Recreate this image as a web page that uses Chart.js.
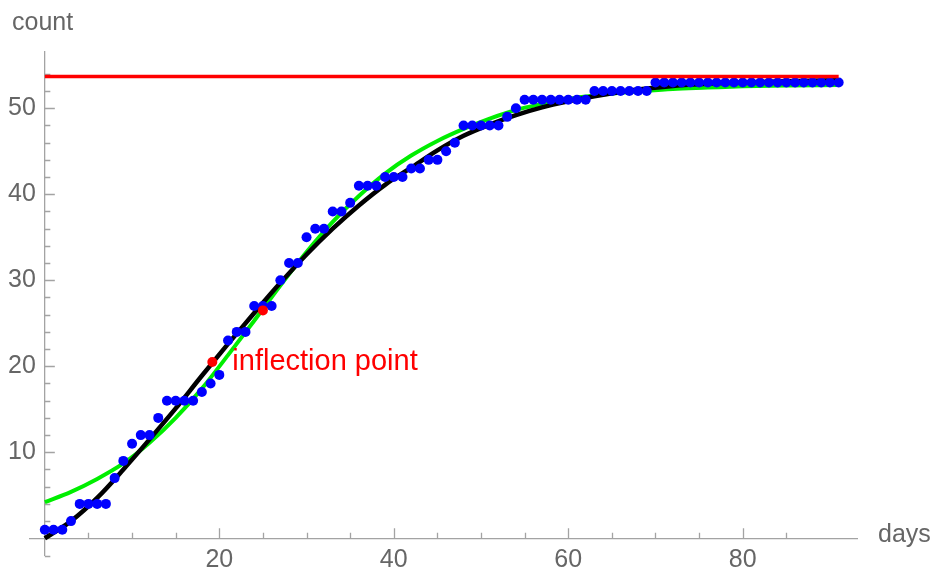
<!DOCTYPE html>
<html>
<head>
<meta charset="utf-8">
<script src="https://cdn.jsdelivr.net/npm/chart.js@4"></script>
<style>
  html, body { margin: 0; padding: 0; background: #fff; }
  #wrap { width: 933px; height: 571px; }
</style>
</head>
<body>
<div id="wrap"><canvas id="chart" width="933" height="571"></canvas></div>
<script>
// observed counts, one per day starting at day 0
const counts = [
  1, 1, 1, 2, 4, 4, 4, 4, 7, 9,
  11, 12, 12, 14, 16, 16, 16, 16, 17, 18,
  19, 23, 24, 24, 27, 27, 27, 30, 32, 32,
  35, 36, 36, 38, 38, 39, 41, 41, 41, 42,
  42, 42, 43, 43, 44, 44, 45, 46, 48, 48,
  48, 48, 48, 49, 50, 51, 51, 51, 51, 51,
  51, 51, 51, 52, 52, 52, 52, 52, 52, 52,
  53, 53, 53, 53, 53, 53, 53, 53, 53, 53,
  53, 53, 53, 53, 53, 53, 53, 53, 53, 53,
  53, 53
];

// sample days for the two fitted curves
const fitDays = [0, 3, 6, 9, 12, 15, 18, 21, 24, 27, 30, 33, 36, 39, 42, 45, 48, 51, 54, 57, 60, 63, 66, 69, 72, 76, 80, 85, 91];

// black fitted curve
const blackVals = [0, 2.0, 4.7, 8.0, 11.5, 15.1, 18.9, 22.6, 26.2, 29.7, 33.0, 36.0, 38.7, 41.1, 43.1, 45.1, 46.8, 48.1, 49.2, 50.1, 50.8, 51.4, 51.9, 52.3, 52.6, 52.85, 53.0, 53.15, 53.25];

// green fitted curve
const greenVals = [4.2, 5.4, 6.9, 8.7, 11.1, 14.0, 17.4, 21.3, 25.3, 29.4, 33.3, 36.8, 39.8, 42.4, 44.5, 46.2, 47.6, 48.8, 49.8, 50.5, 51.1, 51.5, 51.8, 52.05, 52.25, 52.4, 52.55, 52.65, 52.7];

// inflection points of both fits
const inflectDays = [19.2, 25.0];
const inflectVals = [20.5, 26.5];

// saturation level (red line)
const plateau = 53.7;
const plateauDays = [0, 91];

const axisColor = '#a3a3a3';
const textColor = '#666666';
const fontFamily = '"Liberation Sans", Arial, sans-serif';

const pts = (xs, ys) => xs.map((x, i) => ({ x, y: ys[i] }));

// keep tick labels from eating into the fixed plot area
const noPadding = scale => {
  scale.paddingTop = 0;
  scale.paddingBottom = 0;
  scale.paddingLeft = 0;
  scale.paddingRight = 0;
};

// Mathematica style tick marks: long at labelled values, short otherwise
const tickMarks = {
  id: 'tickMarks',
  beforeDatasetsDraw(chart) {
    const { ctx, scales: { x, y } } = chart;
    const x0 = x.getPixelForValue(0);
    const y0 = y.getPixelForValue(0);
    ctx.save();
    ctx.strokeStyle = axisColor;
    ctx.lineWidth = 1.3;
    ctx.beginPath();
    x.ticks.forEach(t => {
      if (t.value % 5 !== 0 || t.value === 0) return;
      const px = Math.round(x.getPixelForValue(t.value)) + 0.5;
      const len = t.value % 20 === 0 ? 10 : 5.5;
      ctx.moveTo(px, y0);
      ctx.lineTo(px, y0 - len);
    });
    y.ticks.forEach(t => {
      if (t.value % 2 !== 0 || t.value === 0) return;
      const py = Math.round(y.getPixelForValue(t.value)) + 0.5;
      const len = t.value % 10 === 0 ? 10 : 5.5;
      ctx.moveTo(x0, py);
      ctx.lineTo(x0 + len, py);
    });
    ctx.stroke();
    ctx.restore();
  },
  afterDraw(chart) {
    const { ctx, scales: { x, y } } = chart;
    ctx.save();
    ctx.font = '25px ' + fontFamily;
    ctx.fillStyle = textColor;
    ctx.textBaseline = 'alphabetic';
    ctx.fillText('count', 12, 30);
    ctx.fillText('days', 878, 542);
    ctx.font = '29px ' + fontFamily;
    ctx.fillStyle = '#ff0000';
    ctx.fillText('inflection point', x.getPixelForValue(inflectDays[0]) + 20, y.getPixelForValue(inflectVals[0]) + 8);
    ctx.restore();
  }
};

new Chart(document.getElementById('chart'), {
  type: 'scatter',
  data: {
    datasets: [
      {
        label: 'plateau',
        type: 'line',
        data: plateauDays.map(d => ({ x: d, y: plateau })),
        borderColor: '#ff0000',
        borderWidth: 3.5,
        pointRadius: 0,
        order: 0
      },
      {
        label: 'inflection',
        data: pts(inflectDays, inflectVals),
        backgroundColor: '#ff0000',
        borderWidth: 0,
        pointRadius: 5,
        order: 1
      },
      {
        label: 'counts',
        data: counts.map((c, i) => ({ x: i, y: c })),
        backgroundColor: '#0000ff',
        borderWidth: 0,
        pointRadius: 5,
        order: 2
      },
      {
        label: 'fit black',
        type: 'line',
        data: pts(fitDays, blackVals),
        borderColor: '#000000',
        borderWidth: 4.5,
        pointRadius: 0,
        cubicInterpolationMode: 'monotone',
        order: 3
      },
      {
        label: 'fit green',
        type: 'line',
        data: pts(fitDays, greenVals),
        borderColor: '#00ee00',
        borderWidth: 4,
        pointRadius: 0,
        cubicInterpolationMode: 'monotone',
        order: 4
      }
    ]
  },
  options: {
    responsive: false,
    animation: false,
    layout: { padding: { left: 30, right: 76, top: 51.5, bottom: 15.5 } },
    plugins: {
      legend: { display: false },
      tooltip: { enabled: false }
    },
    scales: {
      x: {
        type: 'linear',
        min: -1.7,
        max: 93.1,
        position: { y: 0 },
        grid: { drawOnChartArea: false, drawTicks: false },
        border: { color: axisColor, width: 1.3 },
        afterFit: noPadding,
        ticks: {
          stepSize: 5,
          autoSkip: false,
          maxRotation: 0,
          padding: 7,
          color: textColor,
          font: { size: 25, family: fontFamily },
          callback: v => (v % 20 === 0 && v !== 0 ? String(v) : '')
        }
      },
      y: {
        type: 'linear',
        min: -2,
        max: 56.6,
        position: { x: 0 },
        grid: { drawOnChartArea: false, drawTicks: false },
        border: { color: axisColor, width: 1.3 },
        afterFit: noPadding,
        ticks: {
          stepSize: 2,
          autoSkip: false,
          color: textColor,
          font: { size: 25, family: fontFamily },
          // trailing space keeps the label clear of the axis line
          callback: v => (v % 10 === 0 && v > 0 ? String(v) + ' \u200A' : '')
        }
      }
    }
  },
  plugins: [tickMarks]
});
</script>
</body>
</html>
